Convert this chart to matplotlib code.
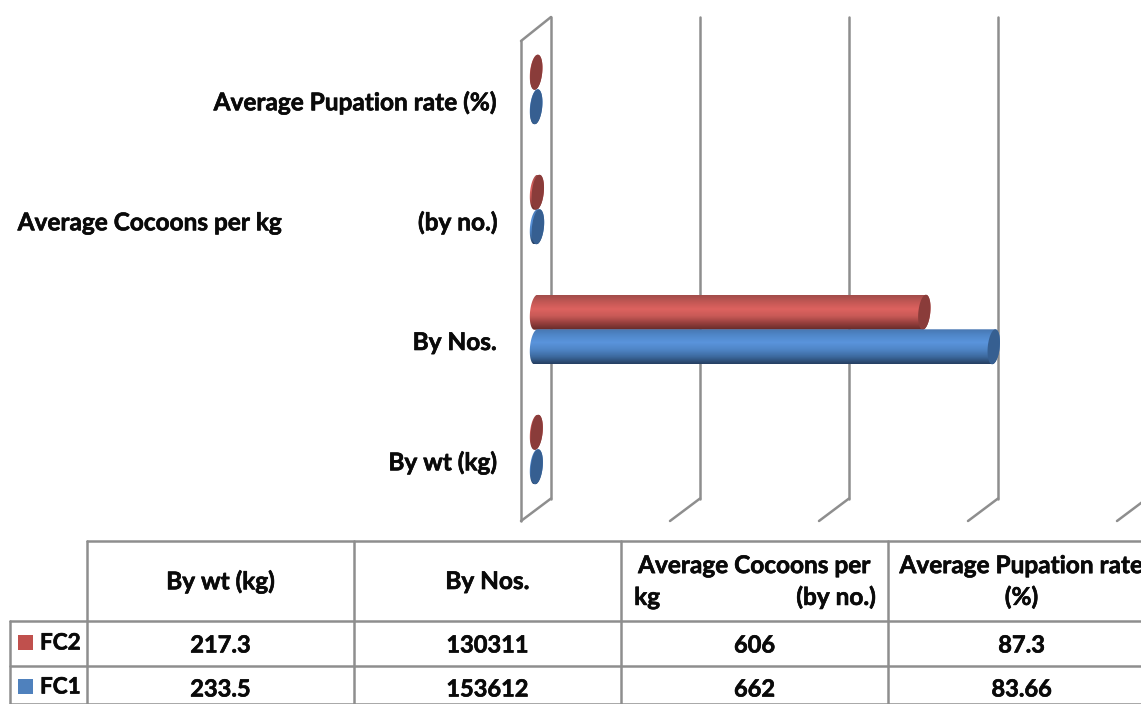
import numpy as np
import matplotlib
matplotlib.use("Agg")
import matplotlib.pyplot as plt
import matplotlib.patheffects as pe
from matplotlib.colors import LinearSegmentedColormap
from matplotlib.patches import Polygon, Rectangle

plt.rcParams['font.family'] = ['Lato', 'DejaVu Sans']

# Data
categories = ["By wt (kg)", "By Nos.",
              "Average Cocoons per kg                       (by no.)",
              "Average Pupation rate (%)"]
table_headers = ["By wt (kg)", "By Nos.",
                 "Average Cocoons per\nkg                       (by no.)",
                 "Average Pupation rate\n(%)"]
fc2_values = [217.3, 130311, 606, 87.3]
fc1_values = [233.5, 153612, 662, 83.66]
fc2_labels = ["217.3", "130311", "606", "87.3"]
fc1_labels = ["233.5", "153612", "662", "83.66"]
grid_ticks = [0, 50000, 100000, 150000, 200000]

W, H = 1141, 704
GREY = "#8e8e8e"
LW = 1.8
# Lato bold is a little lighter than the original, thicken with a thin stroke
txt = dict(fontweight="bold", color="#0a0a0a",
           path_effects=[pe.withStroke(linewidth=0.45, foreground="#0a0a0a")])
FS = 17.55
FS_NUM = 17.0

# px per data unit in the chart
k = 149 / 50000
row_h = 120
zero_px = 536
base_py = 449.5

fig = plt.figure(figsize=(W / 100, H / 100), dpi=100)
ax = fig.add_axes([0, 0, 1, 1])
ax.axis("off")
tab = fig.add_axes([0, 0, 1, 1])
tab.axis("off")
tab.set_xlim(0, W)
tab.set_ylim(H, 0)
tab.patch.set_alpha(0)


def dx(px):
    return px / k


def dy(px):
    return px / row_h


# chart walls
top_back = dy(base_py - 17)
top_front = dy(base_py - 41)
bot_back = dy(base_py - 498.5)
bot_front = dy(base_py - 521)
depth = dx(15)
wall = dict(color=GREY, lw=LW, solid_capstyle="round", zorder=1)
for i, t in enumerate(grid_ticks):
    ax.plot([t + depth, t + depth], [bot_back, top_back], **wall)
    ax.plot([t + depth, t - depth], [bot_back, bot_front], **wall)
ax.plot([-depth, -depth], [bot_front, top_front], **wall)
ax.plot([-depth, depth], [top_front, top_back], **wall)

red_cmap = LinearSegmentedColormap.from_list(
    "red", ["#a24c4a", "#c45855", "#dd625f", "#c85a57", "#98403e", "#652a29"])
blue_cmap = LinearSegmentedColormap.from_list(
    "blue", ["#4674ae", "#5088ca", "#5a94dc", "#4f85c6", "#3d6a9f", "#263f62"])


def cap_outline(x, y, t0, t1):
    # slightly sheared ellipse, like the 3D cylinder end
    t = np.linspace(t0, t1, 60)
    a = dx(6)
    b = dy(17.5)
    return np.column_stack([x + a * np.cos(t) + dx(1.6) * np.sin(t), y + b * np.sin(t)])


def cylinder(val, y, cmap, cap_color, z):
    left = cap_outline(0, y, np.pi / 2, 3 * np.pi / 2)
    right = cap_outline(val, y, -np.pi / 2, np.pi / 2)
    shape = Polygon(np.vstack([left, right]), closed=True, transform=ax.transData,
                    fc="none", ec="none")
    ax.add_patch(shape)
    grad = np.linspace(0, 1, 64).reshape(-1, 1)
    b = dy(17.5)
    im = ax.imshow(grad, cmap=cmap, aspect="auto", origin="upper", zorder=z,
                   extent=[-dx(10), val + dx(10), y - b, y + b])
    im.set_clip_path(shape)
    ax.fill(*cap_outline(val, y, 0, 2 * np.pi).T, color=cap_color, lw=0, zorder=z + 0.1)


for i in range(len(categories)):
    cylinder(fc2_values[i], i + dy(17.3), red_cmap, "#8a3c3a", 2)
    cylinder(fc1_values[i], i - dy(17.3), blue_cmap, "#365f91", 3)
    ax.text(dx(497 - zero_px), i - dy(13), categories[i], ha="right", va="center",
            fontsize=FS, zorder=5, **txt)

ax.set_xlim(-zero_px / k, (W - zero_px) / k)
ax.set_ylim((base_py - H) / row_h, base_py / row_h)

# data table
col_x = [87, 354, 621, 888, 1155]
row_y = [541, 621, 666, 704]
line = dict(color=GREY, lw=LW, solid_capstyle="round", clip_on=True)
for x in col_x:
    tab.plot([x, x], [row_y[0], row_y[-1]], **line)
tab.plot([10, 10], [row_y[1], row_y[-1]], **line)
tab.plot([87, W + 20], [row_y[0], row_y[0]], **line)
for y in row_y[1:]:
    tab.plot([10, W + 20], [y, y], **line)

for i in range(4):
    xc = (col_x[i] + col_x[i + 1]) / 2
    tab.text(xc, 581.5, table_headers[i], ha="center", va="center", fontsize=FS,
             linespacing=1.42, **txt)
    tab.text(xc, 645, fc2_labels[i], ha="center", va="center", fontsize=FS_NUM, **txt)
    tab.text(xc, 689, fc1_labels[i], ha="center", va="center", fontsize=FS_NUM, **txt)

tab.add_patch(Rectangle((18, 635), 15, 15, fc="#c0504d", ec="none"))
tab.add_patch(Rectangle((18, 679), 15, 15, fc="#4f81bd", ec="none"))
tab.text(40, 643, "FC2", ha="left", va="center", fontsize=16.2, **txt)
tab.text(40, 687, "FC1", ha="left", va="center", fontsize=16.2, **txt)

fig.savefig("out.png", dpi=100)
